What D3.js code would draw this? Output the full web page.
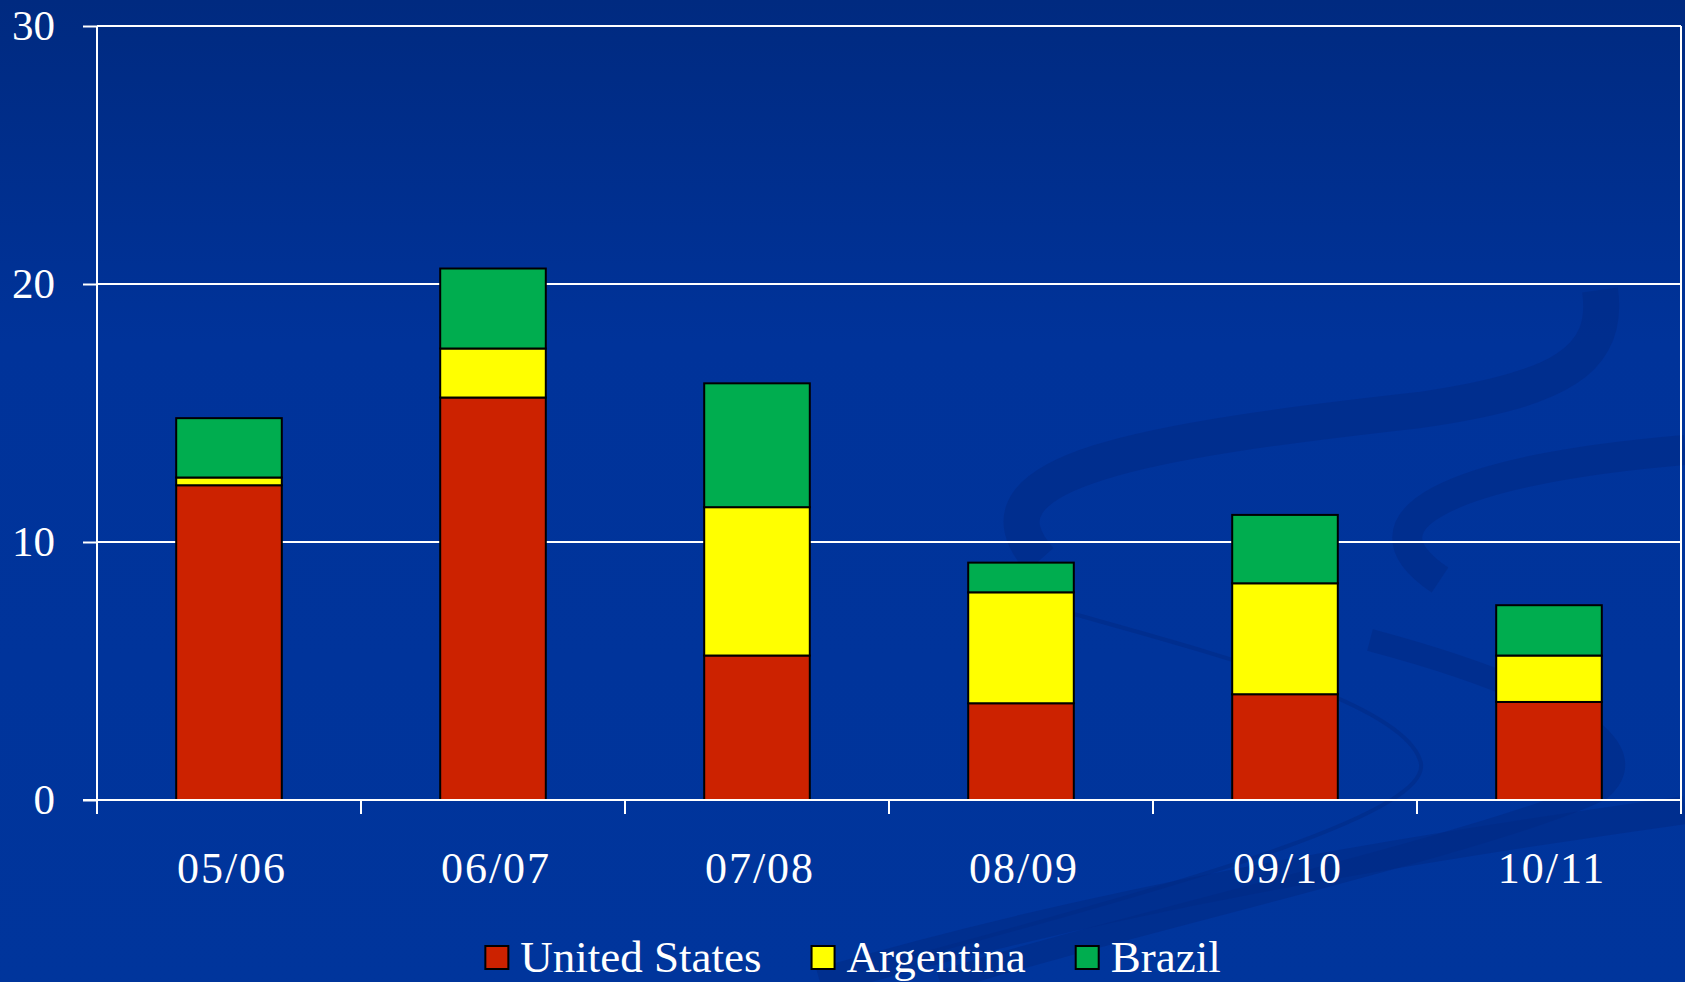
<!DOCTYPE html>
<html>
<head>
<meta charset="utf-8">
<script src="https://cdn.jsdelivr.net/npm/d3@7"></script>
<style>
  html, body { margin: 0; padding: 0; background: #003399; }
  svg { display: block; }
  text { font-family: "Liberation Serif", "DejaVu Serif", serif; fill: #fff; }
</style>
</head>
<body>
<div id="chart"></div>
<script>
// marketing years
const seasons = ['05/06', '06/07', '07/08', '08/09', '09/10', '10/11'];
const countries = ['United States', 'Argentina', 'Brazil'];
const unitedStates = [12.2, 15.6, 5.6, 3.75, 4.1, 3.8];
const argentina = [0.3, 1.9, 5.75, 4.3, 4.3, 1.8];
const brazil = [2.3, 3.1, 4.8, 1.15, 2.65, 1.95];
const yTicks = [0, 10, 20, 30];
const colors = ['#cc2200', '#ffff00', '#00ad4f'];

const width = 1685;
const height = 982;
const margin = { top: 26, right: 4, bottom: 182, left: 97 };

const rows = seasons.map((s, i) => ({
  season: s,
  'United States': unitedStates[i],
  'Argentina': argentina[i],
  'Brazil': brazil[i]
}));

const svg = d3.select('#chart')
  .append('svg')
  .attr('width', width)
  .attr('height', height);

// background
const defs = svg.append('defs');
const grad = defs.append('linearGradient')
  .attr('id', 'bg')
  .attr('x1', 0).attr('y1', 0).attr('x2', 0).attr('y2', 1);
grad.append('stop').attr('offset', '0%').attr('stop-color', '#002a80');
grad.append('stop').attr('offset', '35%').attr('stop-color', '#00339a');
grad.append('stop').attr('offset', '100%').attr('stop-color', '#00359c');
svg.append('rect')
  .attr('width', width)
  .attr('height', height)
  .attr('fill', 'url(#bg)');

// faint swooshes in the template
const swoosh = svg.append('g')
  .attr('fill', 'none')
  .attr('stroke', '#002a85')
  .attr('stroke-opacity', 0.55)
  .attr('stroke-linecap', 'butt');
swoosh.append('path')
  .attr('stroke-width', 36)
  .attr('d', 'M1040,560 C960,470 1150,440 1420,410 C1560,390 1610,360 1600,290');
swoosh.append('path')
  .attr('stroke-width', 30)
  .attr('d', 'M1440,580 C1350,520 1450,470 1685,450');
swoosh.append('path')
  .attr('stroke-width', 4)
  .attr('d', 'M1060,610 C1200,650 1400,700 1420,760 C1440,810 1200,880 900,960');
swoosh.append('path')
  .attr('stroke-width', 22)
  .attr('d', 'M1370,640 C1520,680 1660,740 1600,790 C1500,840 1100,930 940,982');
swoosh.append('path')
  .attr('stroke-width', 28)
  .attr('d', 'M820,982 C1100,900 1400,850 1685,810');

const plotW = width - margin.left - margin.right;
const plotH = height - margin.top - margin.bottom;

const g = svg.append('g')
  .attr('transform', `translate(${margin.left},${margin.top})`);

const x = d3.scaleBand()
  .domain(seasons)
  .range([0, plotW])
  .paddingInner(0.6)
  .paddingOuter(0.3);

const y = d3.scaleLinear()
  .domain([0, 30])
  .range([plotH, 0]);

// gridlines
g.append('g')
  .selectAll('line')
  .data(yTicks.filter(d => d > 0))
  .enter().append('line')
  .attr('x1', 0)
  .attr('x2', plotW)
  .attr('y1', d => y(d))
  .attr('y2', d => y(d))
  .attr('stroke', '#fff')
  .attr('stroke-width', 2);

// stacked bars
const stack = d3.stack().keys(countries);
const series = stack(rows);

g.append('g')
  .selectAll('g')
  .data(series)
  .enter().append('g')
  .attr('fill', (d, i) => colors[i])
  .selectAll('rect')
  .data(d => d)
  .enter().append('rect')
  .attr('x', d => x(d.data.season))
  .attr('y', d => y(d[1]))
  .attr('width', x.bandwidth())
  .attr('height', d => y(d[0]) - y(d[1]))
  .attr('stroke', '#000')
  .attr('stroke-width', 2);

// y axis
const yAxis = g.append('g')
  .call(d3.axisLeft(y).tickValues(yTicks).tickSize(14).tickPadding(28));
yAxis.select('.domain').remove();
yAxis.selectAll('line').attr('stroke', '#fff').attr('stroke-width', 2);
yAxis.selectAll('text')
  .attr('fill', '#fff')
  .style('font-size', '43px')
  .style('font-family', '"Liberation Serif", serif');

// left and right frame lines and x baseline
g.append('line')
  .attr('x1', 0).attr('x2', 0)
  .attr('y1', 0).attr('y2', plotH + 14)
  .attr('stroke', '#fff').attr('stroke-width', 2);
g.append('line')
  .attr('x1', plotW).attr('x2', plotW)
  .attr('y1', 0).attr('y2', plotH + 14)
  .attr('stroke', '#fff').attr('stroke-width', 2);
g.append('line')
  .attr('x1', -14).attr('x2', plotW)
  .attr('y1', plotH).attr('y2', plotH)
  .attr('stroke', '#fff').attr('stroke-width', 2);

// category boundary ticks
g.append('g')
  .selectAll('line')
  .data(d3.range(1, seasons.length))
  .enter().append('line')
  .attr('x1', i => i * x.step())
  .attr('x2', i => i * x.step())
  .attr('y1', plotH)
  .attr('y2', plotH + 14)
  .attr('stroke', '#fff')
  .attr('stroke-width', 2);

// category labels
g.append('g')
  .selectAll('text')
  .data(seasons)
  .enter().append('text')
  .attr('x', d => x(d) + x.bandwidth() / 2 + 3)
  .attr('y', plotH + 83)
  .attr('text-anchor', 'middle')
  .style('font-size', '44px')
  .style('letter-spacing', '2px')
  .text(d => d);

// legend
const legend = svg.append('g');
const items = legend.selectAll('g')
  .data(countries)
  .enter().append('g');
items.append('rect')
  .attr('width', 23)
  .attr('height', 23)
  .attr('y', 946)
  .attr('fill', (d, i) => colors[i])
  .attr('stroke', '#000')
  .attr('stroke-width', 2);
items.append('text')
  .attr('x', 35)
  .attr('y', 972)
  .style('font-size', '45px')
  .text(d => d);

let offset = 0;
const widths = [];
items.each(function () {
  widths.push(this.getBBox().width);
});
const gap = 50;
const total = d3.sum(widths) + gap * (widths.length - 1);
offset = 853 - total / 2;
items.attr('transform', (d, i) => {
  const tx = offset;
  offset += widths[i] + gap;
  return `translate(${tx},0)`;
});
</script>
</body>
</html>
